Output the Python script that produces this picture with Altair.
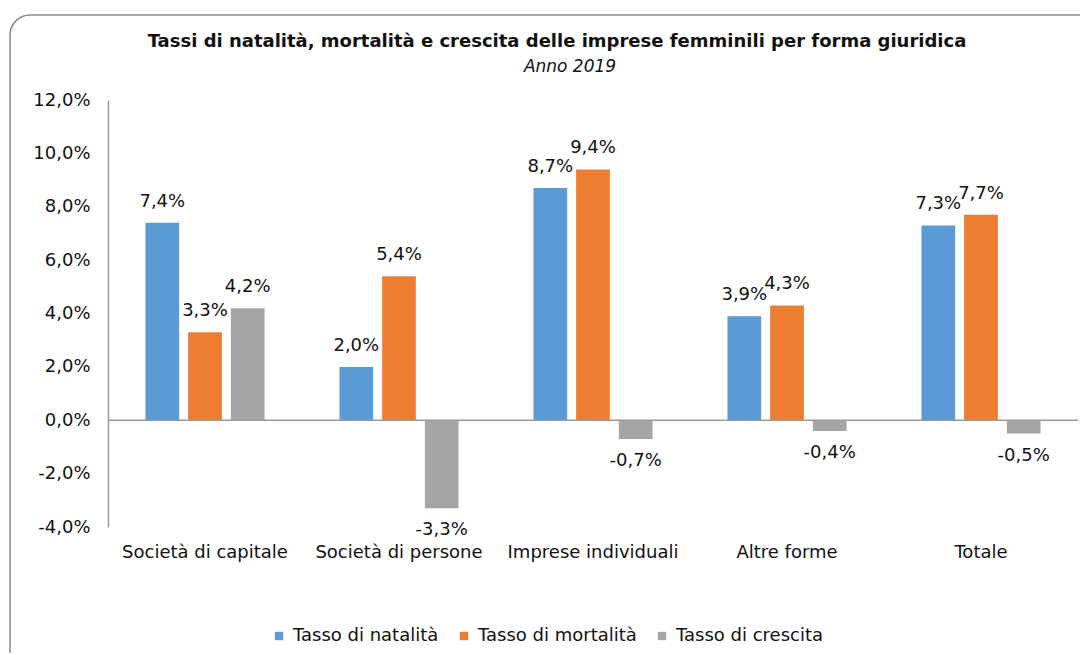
import altair as alt
import pandas as pd

categories = ["Società di capitale", "Società di persone", "Imprese individuali", "Altre forme", "Totale"]
series = ["Tasso di natalità", "Tasso di mortalità", "Tasso di crescita"]
natalita = [7.4, 2.0, 8.7, 3.9, 7.3]
mortalita = [3.3, 5.4, 9.4, 4.3, 7.7]
crescita = [4.2, -3.3, -0.7, -0.4, -0.5]
colors = ["#5B9BD5", "#ED7D31", "#A5A5A5"]
title_text = "Tassi di natalità, mortalità e crescita delle imprese femminili per forma giuridica"
subtitle_text = "Anno 2019"

rows = []
for s, vals in zip(series, [natalita, mortalita, crescita]):
    for c, v in zip(categories, vals):
        rows.append({"cat": c, "series": s, "value": v / 100,
                     "label": f"{v:.1f}%".replace(".", ",")})
df = pd.DataFrame(rows)

FONT = "DejaVu Sans"
FS = 18
TXT = "#111"

x_enc = alt.X("cat:N", sort=categories,
              scale=alt.Scale(paddingInner=0.386, paddingOuter=0.193),
              axis=alt.Axis(title=None, labelAngle=0, domain=False, ticks=False,
                            labelPadding=16, labelFontSize=FS, labelFont=FONT,
                            labelColor=TXT))
xo_enc = alt.XOffset("series:N", sort=series,
                     scale=alt.Scale(paddingInner=0.21, paddingOuter=0))
y_enc = alt.Y("value:Q", scale=alt.Scale(domain=[-0.04, 0.12], nice=False, zero=True),
              axis=alt.Axis(title=None, values=[-0.04, -0.02, 0, 0.02, 0.04, 0.06, 0.08, 0.10, 0.12],
                            labelExpr="replace(replace(format(datum.value, '.1%'), '.', ','), '\u2212', '-')",
                            grid=False, ticks=False, domainColor="#999", domainWidth=1.5,
                            labelPadding=18, labelFontSize=FS, labelFont=FONT,
                            labelColor=TXT))

base = alt.Chart(df)

bars = base.mark_bar().encode(
    x=x_enc, xOffset=xo_enc, y=y_enc,
    color=alt.Color("series:N", sort=series,
                    scale=alt.Scale(domain=series, range=colors),
                    legend=alt.Legend(title=None, orient="none", direction="horizontal",
                                      legendX=162, legendY=527, symbolType="square",
                                      symbolSize=70, symbolStrokeWidth=0,
                                      labelFontSize=FS, labelFont=FONT, labelColor=TXT,
                                      columnPadding=16, labelOffset=5))
)

pos_text = base.transform_filter("datum.value >= 0").mark_text(
    baseline="alphabetic", dy=-16, font=FONT, fontSize=FS, color=TXT
).encode(x=x_enc, xOffset=xo_enc, y=y_enc, text="label:N")

neg_text = base.transform_filter("datum.value < 0").mark_text(
    baseline="alphabetic", dy=27, font=FONT, fontSize=FS, color=TXT
).encode(x=x_enc, xOffset=xo_enc, y=y_enc, text="label:N")

zero = alt.Chart(pd.DataFrame({"z": [0]})).mark_rule(color="#999", strokeWidth=1.5).encode(
    y=alt.Y("z:Q"))

frame = alt.Chart(pd.DataFrame({"a": [0]})).mark_rect(
    fillOpacity=0, stroke="#8a8a8a", strokeWidth=1.5, cornerRadius=20
).encode(x=alt.value(-98), x2=alt.value(992), y=alt.value(-85), y2=alt.value(590))

title = alt.Chart(pd.DataFrame({"t": [title_text]})).mark_text(
    font=FONT, fontSize=18, fontWeight="bold", color=TXT, align="center", baseline="middle"
).encode(x=alt.value(449), y=alt.value(-58), text="t:N")

subtitle = alt.Chart(pd.DataFrame({"t": [subtitle_text]})).mark_text(
    font=FONT, fontSize=17, fontStyle="italic", color=TXT, align="center", baseline="middle"
).encode(x=alt.value(462), y=alt.value(-33), text="t:N")

chart = alt.layer(frame, title, subtitle, bars, zero, pos_text, neg_text).properties(
    width=970, height=427,
    padding={"left": 100, "top": 92, "right": 2, "bottom": 126},
    autosize=alt.AutoSizeParams(type="none"),
    background="white",
).configure_view(strokeWidth=0, stroke="transparent")

chart.save("out.html", embed_options={"renderer": "svg", "actions": False})
